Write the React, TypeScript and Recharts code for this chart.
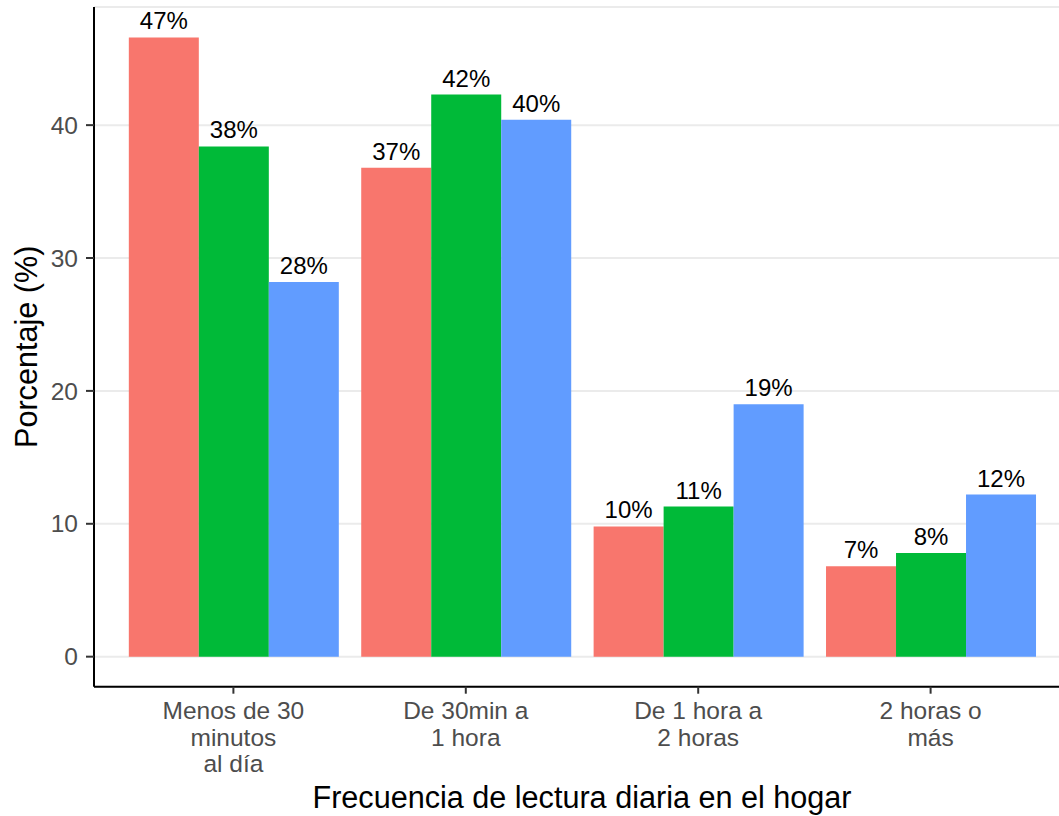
import React from "react";
import { Bar, BarChart, CartesianGrid, Label, LabelList, XAxis, YAxis } from "recharts";

const categories = ["Menos de 30\nminutos\nal día", "De 30min a\n1 hora", "De 1 hora a\n2 horas", "2 horas o\nmás"];
const serieA = [46.6, 36.8, 9.8, 6.8];
const serieB = [38.4, 42.3, 11.3, 7.8];
const serieC = [28.2, 40.4, 19.0, 12.2];
const yTicks = [0, 10, 20, 30, 40];

const FONT = '"Liberation Sans", Arial, Helvetica, sans-serif';

const data = categories.map((cat, i) => ({ cat, a: serieA[i], b: serieB[i], c: serieC[i] }));

const pct = (v: number) => `${Math.round(v)}%`;

function CategoryTick({ x, y, payload }: any) {
  const lines = String(payload.value).split("\n");
  return (
    <text x={x} y={y} textAnchor="middle" fill="#4d4d4d" fontSize={24.5} fontFamily={FONT}>
      {lines.map((line, i) => (
        <tspan key={i} x={x} dy={i === 0 ? 23.6 : 26.5}>
          {line}
        </tspan>
      ))}
    </text>
  );
}

export default function App() {
  return (
    <div style={{ position: "absolute", left: 0, top: 0, width: 1059, height: 816, overflow: "hidden", background: "#fff" }}>
      <BarChart
        width={1070}
        height={816}
        data={data}
        margin={{ top: 7, right: 0, bottom: 0, left: 0 }}
        barCategoryGap="5%"
        barGap={0}
        style={{ fontFamily: FONT }}
      >
        <CartesianGrid vertical={false} stroke="#ebebeb" strokeWidth={2} />
        <XAxis
          dataKey="cat"
          height={129.3}
          padding={{ left: 23.2, right: 23.2 }}
          axisLine={{ stroke: "#000", strokeWidth: 2 }}
          tickLine={{ stroke: "#333", strokeWidth: 2 }}
          tickSize={7}
          tick={<CategoryTick />}
          interval={0}
        >
          <Label
            content={({ viewBox }: any) => (
              <text x={viewBox.x + viewBox.width / 2} y={viewBox.y + 121.3} textAnchor="middle" fontSize={30.6} fill="#000" fontFamily={FONT}>
                Frecuencia de lectura diaria en el hogar
              </text>
            )}
          />
        </XAxis>
        <YAxis
          type="number"
          width={94}
          domain={[-2.26, 48.89]}
          ticks={yTicks}
          allowDataOverflow
          axisLine={{ stroke: "#000", strokeWidth: 2 }}
          tickLine={{ stroke: "#333", strokeWidth: 2 }}
          tickSize={8}
          tickMargin={8}
          tick={{ fill: "#4d4d4d", fontSize: 24.5, fontFamily: FONT }}
        >
          <Label
            content={({ viewBox }: any) => {
              const cx = viewBox.x + 37;
              const cy = viewBox.y + viewBox.height / 2;
              return (
                <text x={cx} y={cy} transform={`rotate(-90 ${cx} ${cy})`} textAnchor="middle" fontSize={30.6} fill="#000" fontFamily={FONT}>
                  Porcentaje (%)
                </text>
              );
            }}
          />
        </YAxis>
        <Bar dataKey="a" fill="#F8766D" isAnimationActive={false}>
          <LabelList dataKey="a" position="top" offset={8} formatter={pct} fill="#000" fontSize={24} fontFamily={FONT} />
        </Bar>
        <Bar dataKey="b" fill="#00BA38" isAnimationActive={false}>
          <LabelList dataKey="b" position="top" offset={8} formatter={pct} fill="#000" fontSize={24} fontFamily={FONT} />
        </Bar>
        <Bar dataKey="c" fill="#619CFF" isAnimationActive={false}>
          <LabelList dataKey="c" position="top" offset={8} formatter={pct} fill="#000" fontSize={24} fontFamily={FONT} />
        </Bar>
      </BarChart>
    </div>
  );
}
